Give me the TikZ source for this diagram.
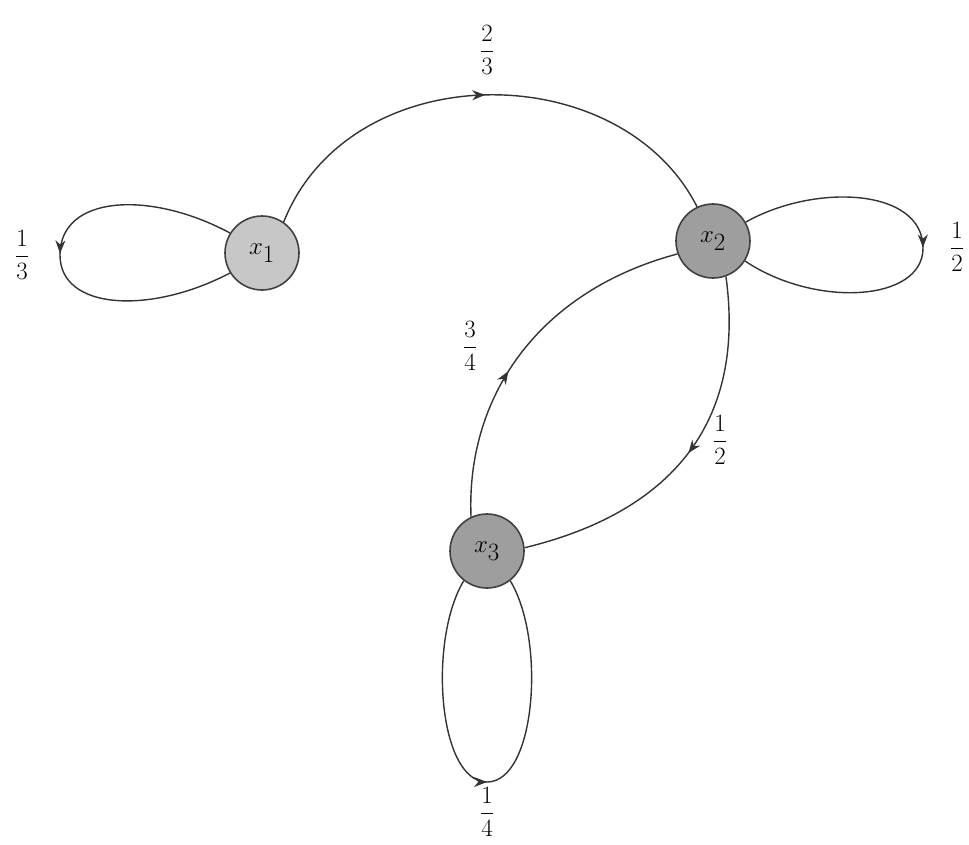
\documentclass[tikz,border=0pt]{standalone}
\usepackage{amsmath}
\usetikzlibrary{decorations.markings,arrows.meta}
\begin{document}
\begin{tikzpicture}[x=1pt,y=-1pt,
  state/.style={circle,draw=black!75,line width=1.6pt,minimum size=74pt,inner sep=0pt,font=\fontsize{34}{38}\selectfont},
  edge/.style={draw=black!80,line width=1.4pt},
  midarrow/.style={postaction={decorate},decoration={markings,mark=at position #1 with {\arrow{Stealth[length=13pt,width=10pt]}}}},
  lab/.style={font=\fontsize{26}{30}\selectfont,inner sep=0pt}]
\useasboundingbox (0,0) rectangle (969,844);
\node[state,fill=black!22] (x1) at (262,253) {$x_1$};
\node[state,fill=black!38] (x2) at (713,241) {$x_2$};
\node[state,fill=black!38] (x3) at (487,551) {$x_3$};
% x1 -> x2
\draw[edge,midarrow=0.5] (x1.55) .. controls (350,55) and (620,55) .. (x2.115);
% x1 loop
\coordinate (l1) at (60,255);
\draw[edge,midarrow=0.5] (x1.148) .. controls (150,190) and (60,195) .. (l1) .. controls (60,310) and (150,315) .. (x1.212);
% x2 loop
\coordinate (l2) at (923,248);
\draw[edge,midarrow=0.5] (x2.30) .. controls (815,183) and (923,188) .. (l2) .. controls (923,302) and (815,308) .. (x2.-32);
% x3 loop
\coordinate (l3) at (487,782);
\draw[edge,midarrow=0.5] (x3.232) .. controls (428,640) and (438,782) .. (l3) .. controls (536,782) and (546,640) .. (x3.-52);
% x3 -> x2
\draw[edge,midarrow=0.42] (x3.115) .. controls (466,400) and (535,292) .. (x2.200);
% x2 -> x3
\draw[edge,midarrow=0.49] (x2.-70) .. controls (745,415) and (680,510) .. (x3.5);
% labels
\node[lab] (f23) at (487,50) {$\dfrac{2}{3}$};
\node[lab] (f13) at (22,255) {$\dfrac{1}{3}$};
\node[lab] (f12a) at (957,247) {$\dfrac{1}{2}$};
\node[lab] (f34) at (470,346) {$\dfrac{3}{4}$};
\node[lab] (f12b) at (720,440) {$\dfrac{1}{2}$};
\node[lab] (f14) at (487,812) {$\dfrac{1}{4}$};
\end{tikzpicture}
\end{document}
